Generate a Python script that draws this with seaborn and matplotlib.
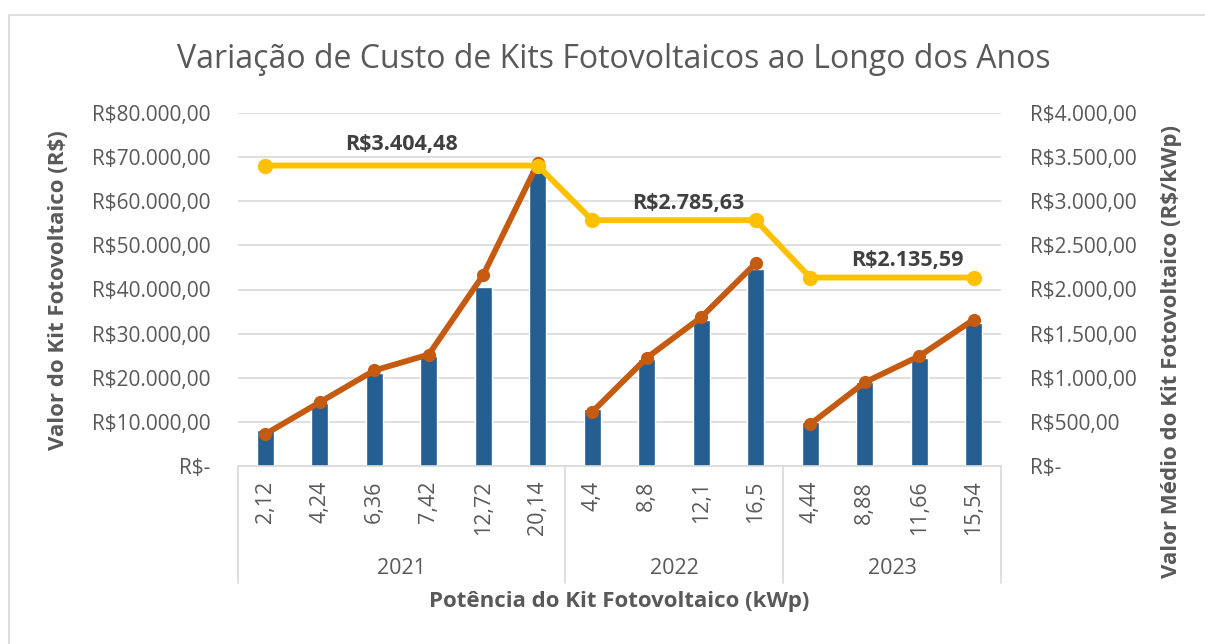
#!/usr/bin/env python3

# Import libraries
import pandas as pd
import numpy as np
import matplotlib.pyplot as plt
from matplotlib.lines import Line2D
from matplotlib.patches import Rectangle
from matplotlib.ticker import FuncFormatter
import seaborn as sns


# Data
anos = ["2021", "2022", "2023"]
potencias = [
    ["2,12", "4,24", "6,36", "7,42", "12,72", "20,14"],
    ["4,4", "8,8", "12,1", "16,5"],
    ["4,44", "8,88", "11,66", "15,54"],
]
valor_kit = [8200, 14200, 21150, 24950, 40650, 67100,
             12850, 24250, 33050, 44600,
             9900, 18980, 24420, 32360]
valor_linha = [7220, 14440, 21650, 25260, 43300, 68570,
               12260, 24510, 33710, 45960,
               9480, 18960, 24900, 33190]
media_ano = [3404.48, 2785.63, 2135.59]
media_rotulos = ["R$3.404,48", "R$2.785,63", "R$2.135,59"]

COR_BARRA = "#255E91"
COR_LINHA = "#C55A11"
COR_MEDIA = "#FFC000"
COR_TEXTO = "#595959"
COR_GRADE = "#D9D9D9"


def brl(v, casas=2):
    ''' Format a number as Brazilian currency. '''
    if v == 0:
        return "R$-"
    s = "{:,.{}f}".format(v, casas)
    s = s.replace(",", "X").replace(".", ",").replace("X", ".")
    return "R$" + s


def build_frames():
    cats = [c for grupo in potencias for c in grupo]
    ano_col = [a for a, grupo in zip(anos, potencias) for _ in grupo]
    df = pd.DataFrame({"pos": np.arange(len(cats)), "potencia": cats, "ano": ano_col,
                       "valor": valor_kit, "linha": valor_linha})
    # yearly average: markers at first and last kit of each year
    rows = []
    inicio = 0
    for ano, grupo, media in zip(anos, potencias, media_ano):
        fim = inicio + len(grupo) - 1
        rows.append({"pos": inicio, "media": media})
        rows.append({"pos": fim, "media": media})
        inicio = fim + 1
    dm = pd.DataFrame(rows)
    return df, dm


def plot(df, dm):
    sns.set_style("white")
    plt.rcParams["font.family"] = ["Open Sans", "DejaVu Sans"]

    fig = plt.figure(figsize=(12.05, 6.44), dpi=100)
    ax = fig.add_axes([238 / 1205, 1 - 466 / 644, 763 / 1205, 353 / 644])

    # chart area border
    fig.add_artist(Rectangle((9 / 1205, 0 - 0.02), 1.05, 1 - 15 / 644 + 0.02,
                             transform=fig.transFigure, fill=False,
                             edgecolor=COR_GRADE, linewidth=1.2))

    sns.barplot(data=df, x="pos", y="valor", color=COR_BARRA, width=0.32,
                saturation=1, ax=ax, zorder=2)
    # one orange segment per year (no link between years)
    sns.lineplot(data=df, x="pos", y="linha", units="ano", estimator=None,
                 color=COR_LINHA, linewidth=4.2, marker="o", markersize=9.5,
                 markeredgewidth=0, ax=ax, zorder=3)

    ax.set_xlim(-0.5, len(df) - 0.5)
    ax.set_ylim(0, 80000)
    ax.set_yticks(np.arange(0, 80001, 10000))
    ax.yaxis.set_major_formatter(FuncFormatter(lambda v, p: brl(v)))
    ax.grid(axis="y", color=COR_GRADE, linewidth=1.2, zorder=0)
    ax.set_axisbelow(True)
    for s in ["top", "right", "left"]:
        ax.spines[s].set_visible(False)
    ax.spines["bottom"].set_color(COR_GRADE)
    ax.spines["bottom"].set_linewidth(1.2)
    ax.tick_params(axis="y", length=0, pad=20, labelsize=15, labelcolor=COR_TEXTO)
    ax.set_xticks([])
    ax.set_xlabel("")
    ax.set_ylabel("")

    # secondary axis: average price per kWp
    ax2 = ax.twinx()
    sns.lineplot(data=dm, x="pos", y="media", color=COR_MEDIA, linewidth=4.2,
                 marker="o", markersize=11, markeredgewidth=0, ax=ax2, zorder=4)
    ax2.set_ylim(0, 4000)
    ax2.set_yticks(np.arange(0, 4001, 500))
    ax2.yaxis.set_major_formatter(FuncFormatter(lambda v, p: brl(v)))
    ax2.tick_params(axis="y", length=0, pad=21, labelsize=15, labelcolor=COR_TEXTO)
    for s in ax2.spines.values():
        s.set_visible(False)
    ax2.set_xlabel("")
    ax2.set_ylabel("")
    ax2.set_xlim(-0.5, len(df) - 0.5)

    # average labels
    shift = [0.0, 0.27, 0.28]
    offs = [21, 17, 17]
    inicio = 0
    for i, grupo in enumerate(potencias):
        meio = inicio + (len(grupo) - 1) / 2 + shift[i]
        ax2.annotate(media_rotulos[i], (meio, media_ano[i]), xytext=(0, offs[i]),
                     textcoords="offset pixels", ha="center", va="center",
                     fontsize=15.5, fontweight="bold", color="#404040")
        inicio += len(grupo)

    # multi-level category axis
    trans = ax.get_xaxis_transform()
    for pos, cat in zip(df["pos"], df["potencia"]):
        ax.text(pos, -0.042, cat, rotation=90, ha="center", va="top",
                fontsize=15.5, color=COR_TEXTO, transform=trans)
    inicio = 0
    bordas = [-0.5]
    for ano, grupo in zip(anos, potencias):
        meio = inicio + (len(grupo) - 1) / 2
        ax.text(meio, -0.29, ano, ha="center", va="center", fontsize=15.5,
                color=COR_TEXTO, transform=trans)
        inicio += len(grupo)
        bordas.append(inicio - 0.5)
    for b in bordas:
        ax.add_line(Line2D([b, b], [0, -0.331], transform=trans, color=COR_GRADE,
                           linewidth=1.2, clip_on=False))

    fig.text(614 / 1205, 1 - 60 / 644, "Variação de Custo de Kits Fotovoltaicos ao Longo dos Anos",
             ha="center", va="center", fontsize=23, color=COR_TEXTO)
    fig.text(619 / 1205, 1 - 602 / 644, "Potência do Kit Fotovoltaico (kWp)",
             ha="center", va="center", fontsize=16, fontweight="bold", color=COR_TEXTO)
    fig.text(59 / 1205, 1 - 290 / 644, "Valor do Kit Fotovoltaico (R$)", rotation=90,
             ha="center", va="center", fontsize=16, fontweight="bold", color=COR_TEXTO)
    fig.text(1172 / 1205, 1 - 352 / 644, "Valor Médio do Kit Fotovoltaico (R$/kWp)", rotation=90,
             ha="center", va="center", fontsize=16, fontweight="bold", color=COR_TEXTO)
    return fig


def main():
    df, dm = build_frames()
    fig = plot(df, dm)
    fig.savefig("out.png", dpi=100, facecolor="white")


if __name__ == '__main__':
    main()
